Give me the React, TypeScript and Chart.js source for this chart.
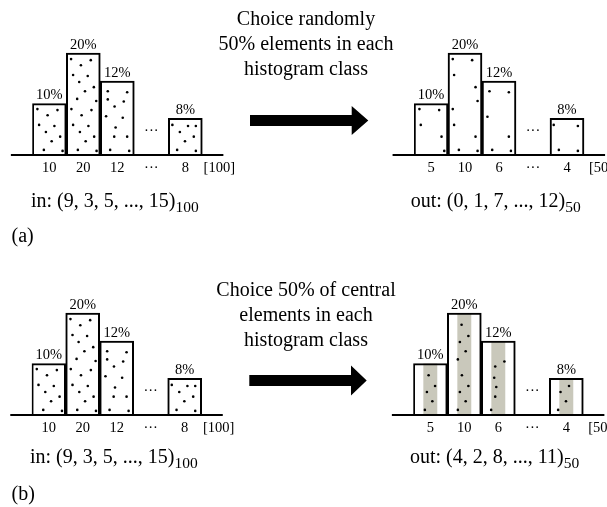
import React, { useEffect, useRef } from "react";
import { Chart, registerables } from "chart.js";

Chart.register(...registerables);

// ---- data ----
// bar heights (drawing height, in % units; 20% bar = 20)
const barHeights: (number | null)[] = [10.1, 20, 14.5, null, 7.2, null];
const pctLabels = ["10%", "20%", "12%", "", "8%", ""];
const inTicks = ["10", "20", "12", "···", "8", "[100]"];
const outTicks = ["5", "10", "6", "···", "4", "[50]"];
const gapMark = "···";
const gapMarkLevel = 4.6;
const Y_MAX = 25;
const bandFraction = 0.41;

// dots: [category position, height]
const inDots: [number, number][] = [
  [-0.35, 9.0], [0.24, 8.8], [-0.05, 7.8], [-0.30, 5.9], [0.15, 5.7], [-0.10, 4.5], [0.32, 3.6], [0.07, 2.7], [-0.16, 1.0], [0.39, 0.8],
  [0.64, 18.8], [1.22, 18.6], [0.93, 17.6], [0.70, 15.7], [1.13, 15.5], [0.88, 14.3], [1.31, 13.3], [1.05, 12.5], [0.82, 11.0], [1.38, 10.6],
  [0.65, 9.0], [1.24, 8.8], [0.95, 7.8], [0.70, 5.9], [1.15, 5.7], [0.90, 4.5], [1.32, 3.6], [1.07, 2.7], [0.84, 1.0], [1.39, 0.8],
  [1.72, 12.5], [2.29, 12.3], [1.72, 10.9], [2.19, 10.5], [1.92, 9.5], [1.67, 7.6], [2.16, 7.3], [1.95, 5.4], [1.91, 3.6], [2.29, 3.6], [1.79, 1.0], [2.35, 0.8],
  [3.62, 5.9], [4.08, 5.7], [4.31, 5.7], [3.84, 4.5], [4.25, 3.6], [3.99, 2.7], [3.76, 1.0], [4.31, 0.8],
];

const outDotsA: [number, number][] = [
  [-0.34, 9.0], [0.24, 8.8], [-0.30, 5.9], [0.31, 3.6], [0.39, 0.8],
  [0.64, 18.8], [1.21, 18.6], [0.68, 15.7], [1.31, 13.3], [1.37, 10.6], [0.64, 9.0], [0.68, 5.9], [1.31, 3.6], [0.82, 1.0], [1.37, 0.8],
  [1.72, 12.5], [2.29, 12.3], [1.66, 7.5], [2.29, 3.6], [1.80, 1.0], [2.35, 0.8],
  [3.61, 5.9], [4.32, 5.7], [3.76, 1.0], [4.32, 0.8],
];

const outDotsB: [number, number][] = [
  [-0.05, 7.8], [0.14, 5.7], [-0.10, 4.5], [0.06, 2.7], [-0.16, 1.0],
  [0.92, 17.7], [1.12, 15.5], [0.87, 14.3], [1.04, 12.5], [0.81, 10.9], [0.93, 7.8], [1.12, 5.7], [0.87, 4.5], [1.04, 2.7], [0.81, 1.0],
  [1.91, 9.5], [2.18, 10.5], [1.88, 7.3], [1.94, 5.5], [1.91, 3.6], [1.79, 1.0],
  [4.08, 5.7], [3.83, 4.5], [3.99, 2.7], [3.76, 1.0],
];

const FONT = '"Liberation Serif", "Times New Roman", serif';
const BAND_COLOR = "#c9c8bb";

type PanelProps = {
  left: number;
  top: number;
  padLeft: number;
  ticks: string[];
  dots: [number, number][];
  band: boolean;
};

function Panel({ left, top, padLeft, ticks, dots, band }: PanelProps) {
  const ref = useRef<HTMLCanvasElement>(null);
  const W = 250;
  const H = 190;
  useEffect(() => {
    if (!ref.current) return;
    const decor = {
      id: "panelDecor",
      afterDatasetsDraw(chart: any) {
        const { ctx, chartArea, scales } = chart;
        const x = scales.x;
        const xd = scales.xd;
        const y = scales.y;
        ctx.save();
        const y0 = y.getPixelForValue(0);
        ctx.strokeStyle = "#000";
        ctx.lineWidth = 2;
        ctx.beginPath();
        ctx.moveTo(xd.getPixelForValue(-1.13), y0);
        ctx.lineTo(xd.getPixelForValue(5.12), y0);
        ctx.stroke();

        ctx.fillStyle = "#000";
        ctx.textAlign = "center";
        ctx.textBaseline = "alphabetic";
        ctx.font = `14.5px ${FONT}`;
        const meta = chart.getDatasetMeta(1);
        meta.data.forEach((el: any, i: number) => {
          if (pctLabels[i] && barHeights[i] != null) {
            ctx.fillText(pctLabels[i], el.x, el.y - 4);
          }
        });
        ctx.textBaseline = "middle";
        ctx.fillText(gapMark, x.getPixelForValue(3), y.getPixelForValue(gapMarkLevel));
        ctx.textBaseline = "alphabetic";
        ticks.forEach((t, i) => {
          ctx.fillText(t, x.getPixelForValue(i), chartArea.bottom + 16.7);
        });
        ctx.restore();
      },
    };

    const datasets: any[] = [
      {
        type: "scatter",
        data: dots.map(([px, py]) => ({ x: px, y: py })),
        xAxisID: "xd",
        yAxisID: "y",
        pointRadius: 1.3,
        pointBackgroundColor: "#000",
        pointBorderWidth: 0,
        order: 0,
      },
      {
        type: "bar",
        data: barHeights,
        xAxisID: "x",
        yAxisID: "y",
        backgroundColor: "rgba(255,255,255,0)",
        borderColor: "#000",
        borderWidth: 1.4,
        borderSkipped: "start",
        barPercentage: 1,
        categoryPercentage: 1,
        grouped: false,
        order: 1,
      },
    ];
    if (band) {
      datasets.push({
        type: "bar",
        data: barHeights,
        xAxisID: "x",
        yAxisID: "y",
        backgroundColor: BAND_COLOR,
        borderWidth: 0,
        barPercentage: bandFraction,
        categoryPercentage: 1,
        grouped: false,
        order: 2,
      });
    }

    const chart = new Chart(ref.current, {
      type: "bar",
      data: { labels: ticks, datasets },
      options: {
        responsive: false,
        animation: false,
        events: [],
        layout: {
          padding: {
            left: padLeft,
            right: W - padLeft - 204,
            top: 155 - 5.1 * Y_MAX,
            bottom: H - 155,
          },
        },
        plugins: {
          legend: { display: false },
          tooltip: { enabled: false },
        },
        scales: {
          x: { type: "category", display: false, offset: true, grid: { display: false } },
          xd: { type: "linear", display: false, min: -0.5, max: 5.5, offset: false },
          y: { type: "linear", display: false, min: 0, max: Y_MAX },
        },
      } as any,
      plugins: [decor],
    });
    return () => chart.destroy();
  }, []);
  return (
    <canvas
      ref={ref}
      width={W}
      height={H}
      style={{ position: "absolute", left, top, width: W, height: H }}
    />
  );
}

const textStyle: React.CSSProperties = {
  position: "absolute",
  fontFamily: FONT,
  fontSize: 20,
  lineHeight: "25px",
  whiteSpace: "nowrap",
  color: "#000",
};

function Formula({ left, top, head, sub }: { left: number; top: number; head: string; sub: string }) {
  return (
    <div style={{ ...textStyle, left, top }}>
      {head}
      <span style={{ fontSize: 15.5, verticalAlign: "-4.5px", lineHeight: "15px" }}>{sub}</span>
    </div>
  );
}

function Arrow({ x0, x1, yc, shaft, headLen, headH }: { x0: number; x1: number; yc: number; shaft: number; headLen: number; headH: number }) {
  const hx = x1 - headLen;
  const pts = [
    [x0, yc - shaft / 2],
    [hx, yc - shaft / 2],
    [hx, yc - headH / 2],
    [x1, yc],
    [hx, yc + headH / 2],
    [hx, yc + shaft / 2],
    [x0, yc + shaft / 2],
  ]
    .map((p) => p.join(","))
    .join(" ");
  return <polygon points={pts} fill="#000" />;
}

export default function App() {
  return (
    <div
      style={{
        position: "absolute",
        left: 0,
        top: 0,
        width: 607,
        height: 507,
        overflow: "hidden",
        background: "#fff",
      }}
    >
      <Panel left={0} top={0} padLeft={32.3} ticks={inTicks} dots={inDots} band={false} />
      <Panel left={380} top={0} padLeft={34} ticks={outTicks} dots={outDotsA} band={false} />
      <Panel left={0} top={260} padLeft={31.7} ticks={inTicks} dots={inDots} band={false} />
      <Panel left={380} top={260} padLeft={33.3} ticks={outTicks} dots={outDotsB} band={true} />

      <svg width={607} height={507} style={{ position: "absolute", left: 0, top: 0 }}>
        <Arrow x0={250} x1={368.3} yc={120.5} shaft={11} headLen={16.6} headH={29} />
        <Arrow x0={249.3} x1={366.7} yc={380.5} shaft={11} headLen={15.7} headH={30} />
      </svg>

      <div style={{ ...textStyle, left: 176, top: 5.75, width: 260, textAlign: "center" }}>
        Choice randomly
        <br />
        50% elements in each
        <br />
        histogram class
      </div>
      <div style={{ ...textStyle, left: 176, top: 276.5, width: 260, textAlign: "center" }}>
        Choice 50% of central
        <br />
        elements in each
        <br />
        histogram class
      </div>

      <Formula left={31} top={187.5} head="in: (9, 3, 5, ..., 15)" sub="100" />
      <Formula left={410.7} top={187.5} head="out: (0, 1, 7, ..., 12)" sub="50" />
      <div style={{ ...textStyle, left: 11.5, top: 222.5 }}>(a)</div>

      <Formula left={30} top={444} head="in: (9, 3, 5, ..., 15)" sub="100" />
      <Formula left={410} top={444} head="out: (4, 2, 8, ..., 11)" sub="50" />
      <div style={{ ...textStyle, left: 11.5, top: 481 }}>(b)</div>
    </div>
  );
}
